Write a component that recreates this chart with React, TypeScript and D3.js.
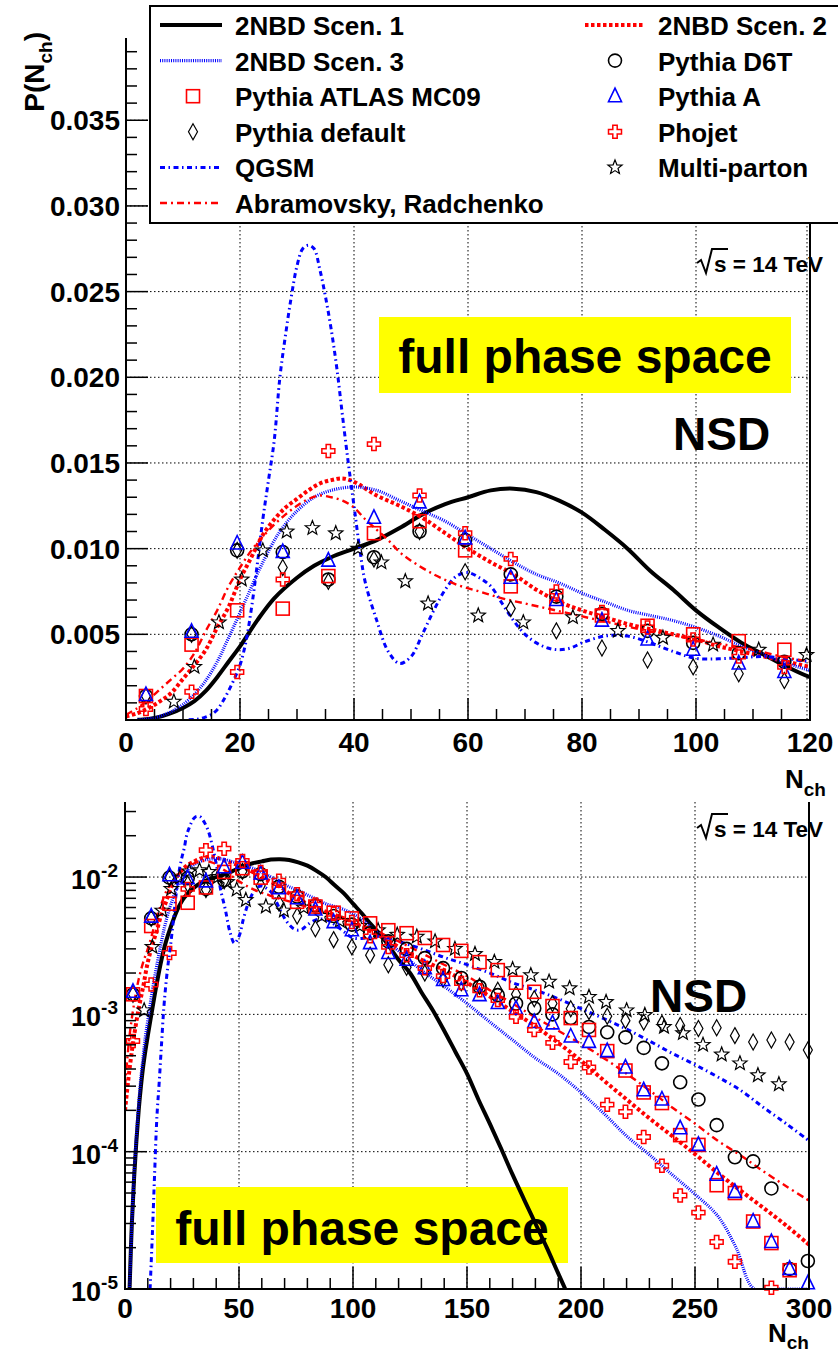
import React from 'react';
import * as d3 from 'd3';

const FONT = '"Liberation Sans", Arial, Helvetica, sans-serif';

// ---------- data ----------
const binN = [3.5, 11.5, 19.5, 27.5, 35.5, 43.5, 51.5, 59.5, 67.5, 75.5, 83.5, 91.5, 99.5, 107.5, 115.5, 123.5, 131.5, 139.5, 147.5, 155.5, 163.5, 171.5, 179.5, 187.5, 195.5, 203.5, 211.5, 219.5, 227.5, 235.5, 243.5, 251.5, 259.5, 267.5, 275.5, 283.5, 291.5, 299.5];

const atlasMC09 = [0.0014, 0.0044, 0.0064, 0.0065, 0.0084, 0.0109, 0.0116, 0.0099, 0.0078, 0.0066, 0.0061, 0.0055, 0.0050, 0.0046, 0.0041, 0.0039, 0.0036, 0.0032, 0.0029, 0.0024, 0.0021, 0.0017, 0.00146, 0.00115, 0.00094, 0.00077, 0.00054, 0.00039, 0.00027, 0.000226, 0.000132, 0.000112, 0.000057, 0.00005, 0.000031, 0.0000216, 0.0000137, null];
const pythiaD6T = [0.0014, 0.0050, 0.0099, 0.0098, 0.0082, 0.0095, 0.0110, 0.0105, 0.0085, 0.0072, 0.0062, 0.0052, 0.0045, 0.0039, 0.0034, 0.0030, 0.00257, 0.00217, 0.00184, 0.00159, 0.00138, 0.0012, 0.00111, 0.0010, 0.00094, 0.00081, 0.00074, 0.00068, 0.00057, 0.00044, 0.00032, 0.00024, 0.000156, 0.000091, 0.000085, 0.000054, 0.000014, 0.000016];
const pythiaA = [0.00146, 0.00515, 0.0103, 0.0098, 0.0093, 0.0118, 0.0127, 0.0106, 0.0083, 0.0070, 0.0058, 0.0047, 0.0041, 0.0033, 0.0028, 0.0025, 0.00217, 0.00178, 0.0015, 0.00138, 0.00121, 0.0011, 0.00088, 0.00086, 0.00069, 0.00063, 0.00054, 0.00041, 0.00028, 0.00024, 0.000148, 0.000112, 0.000068, 0.000051, 0.000031, 0.000022, 0.000014, 0.000011];
const pythiaDefault = [0.0014, 0.0050, 0.0099, 0.0089, 0.0081, 0.0094, 0.0110, 0.00865, 0.0065, 0.0052, 0.0042, 0.0035, 0.0031, 0.0027, 0.0023, 0.0022, 0.0020, 0.0018, 0.0017, 0.0016, 0.0015, 0.0014, 0.0013, 0.0012, 0.0011, 0.00105, 0.00097, 0.0009, 0.00088, 0.00086, 0.00083, 0.00079, 0.0008, 0.0007, 0.00063, 0.00065, 0.00063, 0.00055];
const phojet = [0.00064, 0.00165, 0.0028, 0.0082, 0.0157, 0.0161, 0.0131, 0.0109, 0.0094, 0.0075, 0.0063, 0.0054, 0.0047, 0.0037, 0.0031, 0.0027, 0.00217, 0.0019, 0.00169, 0.0015, 0.00127, 0.00096, 0.00077, 0.00062, 0.00045, 0.00041, 0.00022, 0.000195, 0.000128, 0.000079, 0.000048, 0.000036, 0.000022, 0.0000158, null, 0.0000102, null, null];

const multiPartonN = [8.4, 12, 16.3, 20.3, 24, 28.2, 32.7, 36.8, 40.7, 44.8, 49, 53, 61.8, 69.7, 78.4, 86.3, 94.2, 103, 111, 119.4, 128, 136, 144.7, 153.5, 162, 170, 178, 186, 195, 203.5, 211, 220, 228, 236.4, 244.7, 253.5, 261.7, 269.7, 277.6, 286.8];
const multiPartonP = [0.00107, 0.0031, 0.0057, 0.0082, 0.0099, 0.0110, 0.0112, 0.0109, 0.0100, 0.0092, 0.0081, 0.0068, 0.0061, 0.0057, 0.0060, 0.0052, 0.0048, 0.0044, 0.0041, 0.0038, 0.00368, 0.0034, 0.0030, 0.00275, 0.00241, 0.00213, 0.00193, 0.00173, 0.00155, 0.00134, 0.00123, 0.00107, 0.00099, 0.00081, 0.00073, 0.00060, 0.00051, 0.00044, 0.00036, 0.00031];

const scen1N = [2, 3, 4, 5, 6, 7, 8, 9, 10, 12, 14, 16, 18, 20, 23, 26, 30, 33, 36, 40, 44, 48, 52, 56, 60, 64, 68, 72, 76, 80, 84, 88, 92, 96, 100, 104, 108, 112, 116, 120, 125, 130, 135, 140, 145, 150, 155, 160, 165, 170, 175, 180, 185, 190, 195];
const scen1P = [1.0e-5, 3.0e-5, 6.5e-5, 1.2e-4, 2.0e-4, 3.0e-4, 4.2e-4, 5.5e-4, 7.0e-4, 1.1e-3, 1.7e-3, 2.5e-3, 3.4e-3, 4.3e-3, 5.8e-3, 7.1e-3, 8.3e-3, 9.0e-3, 9.5e-3, 1.0e-2, 1.05e-2, 1.12e-2, 1.2e-2, 1.26e-2, 1.3e-2, 1.34e-2, 1.35e-2, 1.33e-2, 1.28e-2, 1.21e-2, 1.11e-2, 1.0e-2, 8.7e-3, 7.6e-3, 6.4e-3, 5.4e-3, 4.5e-3, 3.8e-3, 3.1e-3, 2.5e-3, 2.0e-3, 1.45e-3, 1.07e-3, 7.6e-4, 5.3e-4, 3.7e-4, 2.4e-4, 1.6e-4, 1.05e-4, 6.8e-5, 4.5e-5, 3.0e-5, 2.0e-5, 1.3e-5, 8.5e-6];

const scen2N = [0, 2, 4, 6, 8, 10, 12, 14, 16, 18, 20, 22, 24, 26, 28, 30, 32, 34, 36, 38, 40, 44, 48, 52, 56, 60, 64, 68, 72, 76, 80, 84, 88, 92, 96, 100, 104, 108, 112, 116, 120, 130, 140, 150, 160, 170, 180, 190, 200, 210, 220, 230, 240, 250, 260, 270, 280, 290, 300];
const scen2P = [2.0e-4, 4.0e-4, 7.0e-4, 1.1e-3, 1.6e-3, 2.4e-3, 3.2e-3, 4.1e-3, 5.4e-3, 6.6e-3, 8.2e-3, 9.5e-3, 1.08e-2, 1.17e-2, 1.24e-2, 1.29e-2, 1.34e-2, 1.38e-2, 1.40e-2, 1.41e-2, 1.39e-2, 1.31e-2, 1.25e-2, 1.18e-2, 1.09e-2, 1.0e-2, 9.2e-3, 8.5e-3, 7.6e-3, 6.9e-3, 6.4e-3, 6.0e-3, 5.6e-3, 5.3e-3, 5.0e-3, 4.7e-3, 4.3e-3, 4.0e-3, 3.7e-3, 3.4e-3, 3.1e-3, 2.5e-3, 2.1e-3, 1.7e-3, 1.35e-3, 1.05e-3, 8.2e-4, 6.2e-4, 4.6e-4, 3.3e-4, 2.4e-4, 1.75e-4, 1.3e-4, 9.6e-5, 7.0e-5, 5.2e-5, 3.9e-5, 2.9e-5, 2.1e-5];

const scen3N = [2, 3, 4, 5, 6, 7, 8, 9, 10, 12, 14, 16, 18, 21, 24, 27, 30, 33, 36, 40, 44, 48, 52, 56, 60, 64, 68, 72, 76, 80, 84, 88, 92, 96, 100, 104, 108, 112, 116, 120, 130, 140, 150, 160, 170, 180, 190, 200, 210, 220, 230, 240, 250, 260, 268, 276, 288, 300];
const scen3P = [1.0e-5, 3.0e-5, 7.0e-5, 1.3e-4, 2.2e-4, 3.5e-4, 5.0e-4, 7.0e-4, 9.0e-4, 1.5e-3, 2.3e-3, 3.4e-3, 4.8e-3, 7.0e-3, 9.2e-3, 1.10e-2, 1.22e-2, 1.30e-2, 1.34e-2, 1.36e-2, 1.34e-2, 1.28e-2, 1.22e-2, 1.16e-2, 1.08e-2, 1.0e-2, 9.2e-3, 8.5e-3, 8.0e-3, 7.4e-3, 6.9e-3, 6.4e-3, 6.1e-3, 5.8e-3, 5.4e-3, 4.9e-3, 4.3e-3, 3.8e-3, 3.3e-3, 2.9e-3, 2.1e-3, 1.6e-3, 1.2e-3, 8.8e-4, 6.5e-4, 4.8e-4, 3.7e-4, 2.7e-4, 1.9e-4, 1.3e-4, 9.5e-5, 6.8e-5, 4.9e-5, 3.4e-5, 2.0e-5, 1.0e-5, 1.0e-5, 1.0e-5];

const qgsmN = [11, 12, 13, 14, 15, 16, 17, 18, 19, 20, 21, 22, 23, 24, 25, 26, 27, 28, 29, 30, 31, 32, 33, 34, 35, 36, 37, 38, 39, 40, 41, 42, 44, 46, 48, 50, 52, 54, 56, 58, 60, 62, 64, 66, 68, 70, 72, 74, 76, 78, 80, 84, 88, 92, 96, 100, 106, 112, 120, 130, 140, 150, 160, 170, 180, 190, 200, 210, 220, 230, 240, 250, 260, 270, 280, 290, 300];
const qgsmP = [1.0e-5, 2.5e-5, 7.0e-5, 1.8e-4, 3.2e-4, 6.0e-4, 1.1e-3, 1.7e-3, 2.4e-3, 3.2e-3, 4.5e-3, 6.5e-3, 9.0e-3, 1.17e-2, 1.40e-2, 1.63e-2, 2.0e-2, 2.25e-2, 2.47e-2, 2.65e-2, 2.75e-2, 2.77e-2, 2.75e-2, 2.63e-2, 2.47e-2, 2.28e-2, 2.05e-2, 1.77e-2, 1.50e-2, 1.25e-2, 1.0e-2, 8.0e-3, 5.8e-3, 4.0e-3, 3.3e-3, 3.7e-3, 5.0e-3, 6.4e-3, 7.6e-3, 8.4e-3, 8.6e-3, 8.3e-3, 7.8e-3, 6.8e-3, 5.8e-3, 5.0e-3, 4.5e-3, 4.2e-3, 4.1e-3, 4.2e-3, 4.5e-3, 4.9e-3, 4.9e-3, 4.5e-3, 4.0e-3, 3.6e-3, 3.6e-3, 3.7e-3, 3.4e-3, 3.0e-3, 2.6e-3, 2.3e-3, 2.0e-3, 1.7e-3, 1.5e-3, 1.3e-3, 1.1e-3, 9.3e-4, 7.8e-4, 6.4e-4, 5.2e-4, 4.3e-4, 3.5e-4, 2.8e-4, 2.1e-4, 1.6e-4, 1.2e-4];

const abramN = [0, 2, 4, 6, 8, 10, 12, 14, 16, 18, 20, 22, 24, 26, 28, 30, 32, 34, 36, 38, 40, 42, 44, 46, 48, 50, 54, 58, 62, 66, 70, 74, 78, 82, 86, 90, 95, 100, 105, 110, 115, 120, 130, 140, 150, 160, 170, 180, 190, 200, 210, 220, 230, 240, 250, 260, 270, 280, 290, 300];
const abramP = [3.0e-4, 7.0e-4, 1.2e-3, 1.8e-3, 2.4e-3, 3.0e-3, 3.9e-3, 5.2e-3, 6.4e-3, 7.8e-3, 8.9e-3, 9.9e-3, 1.07e-2, 1.14e-2, 1.2e-2, 1.25e-2, 1.29e-2, 1.31e-2, 1.30e-2, 1.28e-2, 1.24e-2, 1.17e-2, 1.11e-2, 1.05e-2, 9.8e-3, 9.3e-3, 8.5e-3, 7.9e-3, 7.5e-3, 7.1e-3, 6.8e-3, 6.5e-3, 6.2e-3, 5.9e-3, 5.6e-3, 5.3e-3, 5.0e-3, 4.7e-3, 4.4e-3, 4.1e-3, 3.7e-3, 3.4e-3, 2.8e-3, 2.3e-3, 1.9e-3, 1.5e-3, 1.2e-3, 9.5e-4, 7.6e-4, 6.1e-4, 4.8e-4, 3.7e-4, 2.8e-4, 2.1e-4, 1.6e-4, 1.2e-4, 9.4e-5, 7.2e-5, 5.6e-5, 4.4e-5];

const topXTicks = [0, 20, 40, 60, 80, 100, 120];
const topYTicks = [0.005, 0.010, 0.015, 0.020, 0.025, 0.030, 0.035];
const botXTicks = [0, 50, 100, 150, 200, 250, 300];
const botYExp = [-5, -4, -3, -2];

const legendLeft = ['2NBD Scen. 1', '2NBD Scen. 3', 'Pythia ATLAS MC09', 'Pythia default', 'QGSM', 'Abramovsky, Radchenko'];
const legendRight = ['2NBD Scen. 2', 'Pythia D6T', 'Pythia A', 'Phojet', 'Multi-parton'];

// ---------- styles ----------
const RED = '#ff0000';
const BLUE = '#0000ff';
const lineStyles: Record<string, any> = {
  scen1: { stroke: '#000', width: 4, dash: null },
  scen2: { stroke: RED, width: 4, dash: '3.5 2.5' },
  scen3: { stroke: BLUE, width: 3.2, dash: '1 1.2' },
  qgsm: { stroke: BLUE, width: 3, dash: '5 3.5 1.5 3.5' },
  abram: { stroke: RED, width: 2.4, dash: '7 4 2 4' },
};

const curves = [
  { key: 'scen1', N: scen1N, P: scen1P },
  { key: 'scen2', N: scen2N, P: scen2P },
  { key: 'scen3', N: scen3N, P: scen3P },
  { key: 'qgsm', N: qgsmN, P: qgsmP },
  { key: 'abram', N: abramN, P: abramP },
];

const markerSeries = [
  { type: 'diamond', N: binN, P: pythiaDefault },
  { type: 'star', N: multiPartonN, P: multiPartonP },
  { type: 'circle', N: binN, P: pythiaD6T },
  { type: 'square', N: binN, P: atlasMC09 },
  { type: 'triangle', N: binN, P: pythiaA },
  { type: 'cross', N: binN, P: phojet },
];

function starPath(x: number, y: number, ro: number, ri: number) {
  const pts: string[] = [];
  for (let i = 0; i < 10; i++) {
    const a = -Math.PI / 2 + (i * Math.PI) / 5;
    const r = i % 2 === 0 ? ro : ri;
    pts.push(`${(x + r * Math.cos(a)).toFixed(2)},${(y + r * Math.sin(a)).toFixed(2)}`);
  }
  return 'M' + pts.join('L') + 'Z';
}

function Marker({ type, x, y }: { type: string; x: number; y: number }) {
  switch (type) {
    case 'square':
      return <rect x={x - 6.5} y={y - 6.5} width={13} height={13} fill="none" stroke={RED} strokeWidth={1.6} />;
    case 'circle':
      return <circle cx={x} cy={y} r={6.5} fill="none" stroke="#000" strokeWidth={1.6} />;
    case 'triangle':
      return <path d={`M${x},${y - 8}L${x + 6.5},${y + 5.5}L${x - 6.5},${y + 5.5}Z`} fill="none" stroke={BLUE} strokeWidth={1.6} />;
    case 'diamond':
      return <path d={`M${x},${y - 8}L${x + 4.5},${y}L${x},${y + 8}L${x - 4.5},${y}Z`} fill="none" stroke="#000" strokeWidth={1.2} />;
    case 'cross': {
      const a = 6.5, w = 2.2;
      const d = `M${x - w},${y - a}L${x + w},${y - a}L${x + w},${y - w}L${x + a},${y - w}L${x + a},${y + w}L${x + w},${y + w}L${x + w},${y + a}L${x - w},${y + a}L${x - w},${y + w}L${x - a},${y + w}L${x - a},${y - w}L${x - w},${y - w}Z`;
      return <path d={d} fill="none" stroke={RED} strokeWidth={1.5} />;
    }
    case 'star':
      return <path d={starPath(x, y, 7.5, 3.2)} fill="none" stroke="#000" strokeWidth={1.2} />;
    default:
      return null;
  }
}

function Sqrt({ x, y }: { x: number; y: number }) {
  // "√s = 14 TeV", x = left of radical, y = baseline
  return (
    <g>
      <path d={`M${x},${y - 9}L${x + 4},${y - 12}L${x + 9},${y + 1}L${x + 15},${y - 23}L${x + 31},${y - 23}`} fill="none" stroke="#000" strokeWidth={2} />
      <text x={x + 17} y={y} fontFamily={FONT} fontWeight="bold" fontSize={22.5}>s = 14 TeV</text>
    </g>
  );
}

const GRID = { stroke: '#000', strokeWidth: 1, strokeDasharray: '1.5 2.5' };

export default function App() {
  // top panel scales
  const xT = d3.scaleLinear().domain([0, 120]).range([126, 810]);
  const yT = d3.scaleLinear().domain([0, 0.0398]).range([720, 38]);
  // bottom panel scales
  const xB = d3.scaleLinear().domain([0, 300]).range([125, 809]);
  const yB = d3.scaleLog().domain([1e-5, 0.0352]).range([1289, 802]);

  const makeLine = (xs: any, ys: any) =>
    d3.line<[number, number]>().x((d) => xs(d[0])).y((d) => ys(d[1])).curve(d3.curveCatmullRom.alpha(0.5));

  const lineT = makeLine(xT, yT);
  const lineB = makeLine(xB, yB);

  const curvePaths = (ln: any, clip: string) =>
    curves.map((c) => {
      const st = lineStyles[c.key];
      const pts = c.N.map((n, i) => [n, c.P[i]] as [number, number]);
      return (
        <path key={c.key} d={ln(pts) || ''} fill="none" stroke={st.stroke} strokeWidth={st.width}
          strokeDasharray={st.dash || undefined} clipPath={`url(#${clip})`} strokeLinejoin="round" />
      );
    });

  const markersTop = markerSeries.flatMap((s) =>
    s.N.map((n, i) => {
      const p = s.P[i];
      if (p == null || n > 120 || p > 0.0398) return null;
      return <Marker key={`t-${s.type}-${i}`} type={s.type} x={xT(n)} y={yT(p)} />;
    })
  );
  const markersBot = markerSeries.flatMap((s) =>
    s.N.map((n, i) => {
      const p = s.P[i];
      if (p == null || p < 0.95e-5 || n > 300) return null;
      return <Marker key={`b-${s.type}-${i}`} type={s.type} x={xB(n)} y={yB(p)} />;
    })
  );

  // ticks
  const topXMinor = d3.range(0, 121, 5).filter((v) => v % 20 !== 0);
  const topYMinor = d3.range(1, 40).map((i) => i * 0.001).filter((v, i) => (i + 1) % 5 !== 0 && v < 0.0398);
  const botXMinor = d3.range(0, 301, 10).filter((v) => v % 50 !== 0);
  const botYMinor: number[] = [];
  botYExp.forEach((e) => {
    for (let m = 2; m <= 9; m++) {
      const v = m * Math.pow(10, e);
      if (v < 0.0352) botYMinor.push(v);
    }
  });
  const fmt = d3.format('.3f');

  return (
    <svg width={838} height={1355} style={{ position: 'absolute', left: 0, top: 0, background: '#fff' }}
      fontFamily={FONT}>
      <defs>
        <clipPath id="clipT"><rect x={126} y={38} width={684} height={682} /></clipPath>
        <clipPath id="clipB"><rect x={125} y={802} width={684} height={487} /></clipPath>
      </defs>
      <rect x={0} y={0} width={838} height={1355} fill="#fff" />

      {/* ===== TOP PANEL ===== */}
      <g>
        {topXTicks.filter((v) => v > 0 && v < 120).map((v) => (
          <line key={`gxt${v}`} x1={xT(v)} x2={xT(v)} y1={38} y2={720} {...GRID} />
        ))}
        <line x1={xT(120) - 3} x2={xT(120) - 3} y1={38} y2={720} {...GRID} />
        {topYTicks.map((v) => (
          <line key={`gyt${v}`} x1={126} x2={810} y1={yT(v)} y2={yT(v)} {...GRID} />
        ))}
        {/* yellow label */}
        <rect x={379} y={317} width={412} height={76} fill="#ffff00" />
        <text x={585} y={373} textAnchor="middle" fontWeight="bold" fontSize={48}>full phase space</text>
        <text x={673} y={450} fontWeight="bold" fontSize={46}>NSD</text>
        <Sqrt x={697} y={272} />

        {curvePaths(lineT, 'clipT')}
        {markersTop}

        {/* axes */}
        <line x1={126} x2={126} y1={38} y2={721} stroke="#000" strokeWidth={2} />
        <line x1={125} x2={811} y1={720} y2={720} stroke="#000" strokeWidth={2} />
        <line x1={810} x2={810} y1={38} y2={721} stroke="#000" strokeWidth={2} />
        {topXTicks.map((v) => (
          <g key={`xt${v}`}>
            <line x1={xT(v)} x2={xT(v)} y1={720} y2={698} stroke="#000" strokeWidth={1.5} />
            <text x={xT(v)} y={752} textAnchor="middle" fontWeight="bold" fontSize={28}>{v}</text>
          </g>
        ))}
        {topXMinor.map((v) => (
          <line key={`xtm${v}`} x1={xT(v)} x2={xT(v)} y1={720} y2={709} stroke="#000" strokeWidth={1.5} />
        ))}
        {topYTicks.map((v) => (
          <g key={`yt${v}`}>
            <line x1={126} x2={148} y1={yT(v)} y2={yT(v)} stroke="#000" strokeWidth={1.5} />
            <text x={120} y={yT(v) + 10} textAnchor="end" fontWeight="bold" fontSize={28}>{fmt(v)}</text>
          </g>
        ))}
        {topYMinor.map((v) => (
          <line key={`ytm${v}`} x1={126} x2={137} y1={yT(v)} y2={yT(v)} stroke="#000" strokeWidth={1.5} />
        ))}
        <text x={785} y={788} fontWeight="bold" fontSize={26}>N<tspan dy={8} fontSize={19}>ch</tspan></text>
        <text transform="translate(44,32) rotate(-90)" textAnchor="end" fontWeight="bold" fontSize={28}>
          P(N<tspan dy={8} fontSize={19}>ch</tspan><tspan dy={-8}>)</tspan>
        </text>
      </g>

      {/* ===== LEGEND ===== */}
      <g>
        <rect x={150} y={6} width={700} height={217} fill="#fff" stroke="#000" strokeWidth={2} />
        {legendLeft.map((t, i) => (
          <text key={`ll${i}`} x={235} y={35 + i * 35.6} fontWeight="bold" fontSize={26}>{t}</text>
        ))}
        {legendRight.map((t, i) => (
          <text key={`lr${i}`} x={658} y={35 + i * 35.6} fontWeight="bold" fontSize={26}>{t}</text>
        ))}
        {[['scen1', 0], ['scen3', 1], ['qgsm', 4], ['abram', 5]].map(([k, i]: any) => {
          const st = lineStyles[k];
          return <line key={`lgl${k}`} x1={160} x2={222} y1={25 + i * 35.6} y2={25 + i * 35.6} stroke={st.stroke}
            strokeWidth={st.width} strokeDasharray={st.dash || undefined} />;
        })}
        <Marker type="square" x={193} y={25 + 2 * 35.6} />
        <Marker type="diamond" x={193} y={25 + 3 * 35.6} />
        <line x1={585} x2={645} y1={25} y2={25} stroke={RED} strokeWidth={4} strokeDasharray="3.5 2.5" />
        <Marker type="circle" x={615} y={25 + 1 * 35.6} />
        <Marker type="triangle" x={615} y={25 + 2 * 35.6} />
        <Marker type="cross" x={615} y={25 + 3 * 35.6} />
        <Marker type="star" x={615} y={25 + 4 * 35.6} />
      </g>

      {/* ===== BOTTOM PANEL ===== */}
      <g>
        {botXTicks.filter((v) => v > 0 && v < 300).map((v) => (
          <line key={`gxb${v}`} x1={xB(v)} x2={xB(v)} y1={802} y2={1289} {...GRID} />
        ))}
        {botYExp.filter((e) => e > -5).map((e) => (
          <line key={`gyb${e}`} x1={125} x2={809} y1={yB(Math.pow(10, e))} y2={yB(Math.pow(10, e))} {...GRID} />
        ))}
        <rect x={156} y={1187} width={412} height={76} fill="#ffff00" />
        <text x={362} y={1245} textAnchor="middle" fontWeight="bold" fontSize={48}>full phase space</text>
        <text x={650} y={1012} fontWeight="bold" fontSize={46}>NSD</text>
        <Sqrt x={697} y={837} />

        {curvePaths(lineB, 'clipB')}
        {markersBot}

        <line x1={125} x2={125} y1={802} y2={1290} stroke="#000" strokeWidth={2} />
        <line x1={124} x2={810} y1={1289} y2={1289} stroke="#000" strokeWidth={2} />
        <line x1={809} x2={809} y1={802} y2={1290} stroke="#000" strokeWidth={2} />
        {botXTicks.map((v) => (
          <g key={`xb${v}`}>
            <line x1={xB(v)} x2={xB(v)} y1={1289} y2={1267} stroke="#000" strokeWidth={1.5} />
            <text x={xB(v)} y={1318} textAnchor="middle" fontWeight="bold" fontSize={28}>{v}</text>
          </g>
        ))}
        {botXMinor.map((v) => (
          <line key={`xbm${v}`} x1={xB(v)} x2={xB(v)} y1={1289} y2={1278} stroke="#000" strokeWidth={1.5} />
        ))}
        {botYExp.map((e) => (
          <g key={`yb${e}`}>
            <line x1={125} x2={147} y1={yB(Math.pow(10, e))} y2={yB(Math.pow(10, e))} stroke="#000" strokeWidth={1.5} />
            <text x={118} y={yB(Math.pow(10, e)) + 12} textAnchor="end" fontWeight="bold" fontSize={27}>
              10<tspan dy={-12} fontSize={19}>{e}</tspan>
            </text>
          </g>
        ))}
        {botYMinor.map((v, i) => (
          <line key={`ybm${i}`} x1={125} x2={136} y1={yB(v)} y2={yB(v)} stroke="#000" strokeWidth={1.5} />
        ))}
        <text x={768} y={1342} fontWeight="bold" fontSize={26}>N<tspan dy={7} fontSize={19}>ch</tspan></text>
      </g>
    </svg>
  );
}
